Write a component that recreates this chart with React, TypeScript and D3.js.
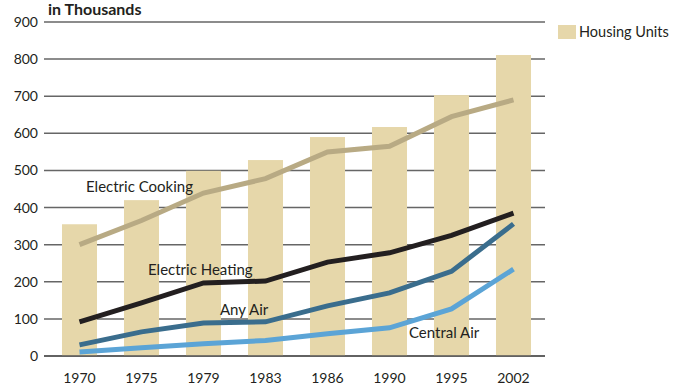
import React, { useEffect, useRef } from 'react';
import * as d3 from 'd3';

const years = ['1970', '1975', '1979', '1983', '1986', '1990', '1995', '2002'];
const housingUnits = [355, 420, 499, 528, 590, 617, 703, 811];
const electricCooking = [300, 365, 439, 478, 550, 565, 645, 690];
const electricHeating = [92, 143, 197, 202, 253, 278, 325, 385];
const anyAir = [30, 65, 89, 92, 135, 170, 228, 356];
const centralAir = [11, 22, 33, 42, 60, 76, 127, 234];
const yTicks = [0, 100, 200, 300, 400, 500, 600, 700, 800, 900];

const FONT = 'Lato, "Open Sans", sans-serif';

export default function App() {
  const ref = useRef<SVGSVGElement>(null);

  useEffect(() => {
    const svg = d3.select(ref.current);
    svg.selectAll('*').remove();

    const x = d3.scaleBand().domain(years).range([48.5, 544.5])
      .paddingInner(0.435).paddingOuter(0.2175);
    const y = d3.scaleLinear().domain([0, 900]).range([356, 22]);
    const cx = (d: string) => (x(d) as number) + x.bandwidth() / 2;

    // gridlines
    svg.append('g').selectAll('line').data(yTicks).enter().append('line')
      .attr('x1', 44).attr('x2', 545)
      .attr('y1', (d) => y(d)).attr('y2', (d) => y(d))
      .attr('stroke', '#666')
      .attr('stroke-width', 1.5);

    // bars
    svg.append('g').selectAll('rect').data(housingUnits).enter().append('rect')
      .attr('x', (d, i) => x(years[i]) as number)
      .attr('y', (d) => y(d))
      .attr('width', x.bandwidth())
      .attr('height', (d) => y(0) - y(d))
      .attr('fill', '#e6d7aa');

    // baseline on top of bars
    svg.append('line').attr('x1', 44).attr('x2', 545)
      .attr('y1', y(0)).attr('y2', y(0))
      .attr('stroke', '#555').attr('stroke-width', 1.5);

    const line = d3.line<number>()
      .x((d, i) => cx(years[i]))
      .y((d) => y(d));

    const series: [number[], string][] = [
      [electricCooking, '#b8aa84'],
      [electricHeating, '#231f20'],
      [anyAir, '#3a6d8d'],
      [centralAir, '#5ba4d6'],
    ];
    series.forEach(([data, color]) => {
      svg.append('path')
        .attr('d', line(data))
        .attr('fill', 'none')
        .attr('stroke', color)
        .attr('stroke-width', 5);
    });

    // y tick labels
    svg.append('g').selectAll('text').data(yTicks).enter().append('text')
      .attr('x', 38).attr('y', (d) => y(d) + 5)
      .attr('text-anchor', 'end')
      .attr('font-family', FONT).attr('font-size', 14)
      .attr('fill', '#231f20')
      .text((d) => d);

    // x tick labels
    svg.append('g').selectAll('text').data(years).enter().append('text')
      .attr('x', (d) => cx(d)).attr('y', 383)
      .attr('text-anchor', 'middle')
      .attr('font-family', FONT).attr('font-size', 14)
      .attr('fill', '#231f20')
      .text((d) => d);

    // title
    svg.append('text')
      .attr('x', 48).attr('y', 15)
      .attr('font-family', FONT).attr('font-size', 16).attr('font-weight', 'bold')
      .attr('fill', '#231f20')
      .text('in Thousands');

    // series labels
    const labels: [string, number, number][] = [
      ['Electric Cooking', 86, 192],
      ['Electric Heating', 148, 275],
      ['Any Air', 220, 315],
      ['Central Air', 409, 338],
    ];
    svg.append('g').selectAll('text').data(labels).enter().append('text')
      .attr('x', (d) => d[1]).attr('y', (d) => d[2])
      .attr('font-family', FONT).attr('font-size', 15)
      .attr('fill', '#231f20')
      .text((d) => d[0]);

    // legend
    svg.append('rect')
      .attr('x', 558).attr('y', 25).attr('width', 18).attr('height', 14)
      .attr('fill', '#e6d7aa');
    svg.append('text')
      .attr('x', 579).attr('y', 37)
      .attr('font-family', FONT).attr('font-size', 14.5)
      .attr('fill', '#231f20')
      .text('Housing Units');
  }, []);

  return (
    <svg ref={ref} width={684} height={389}
      style={{ position: 'absolute', left: 0, top: 0, background: '#fff' }} />
  );
}
